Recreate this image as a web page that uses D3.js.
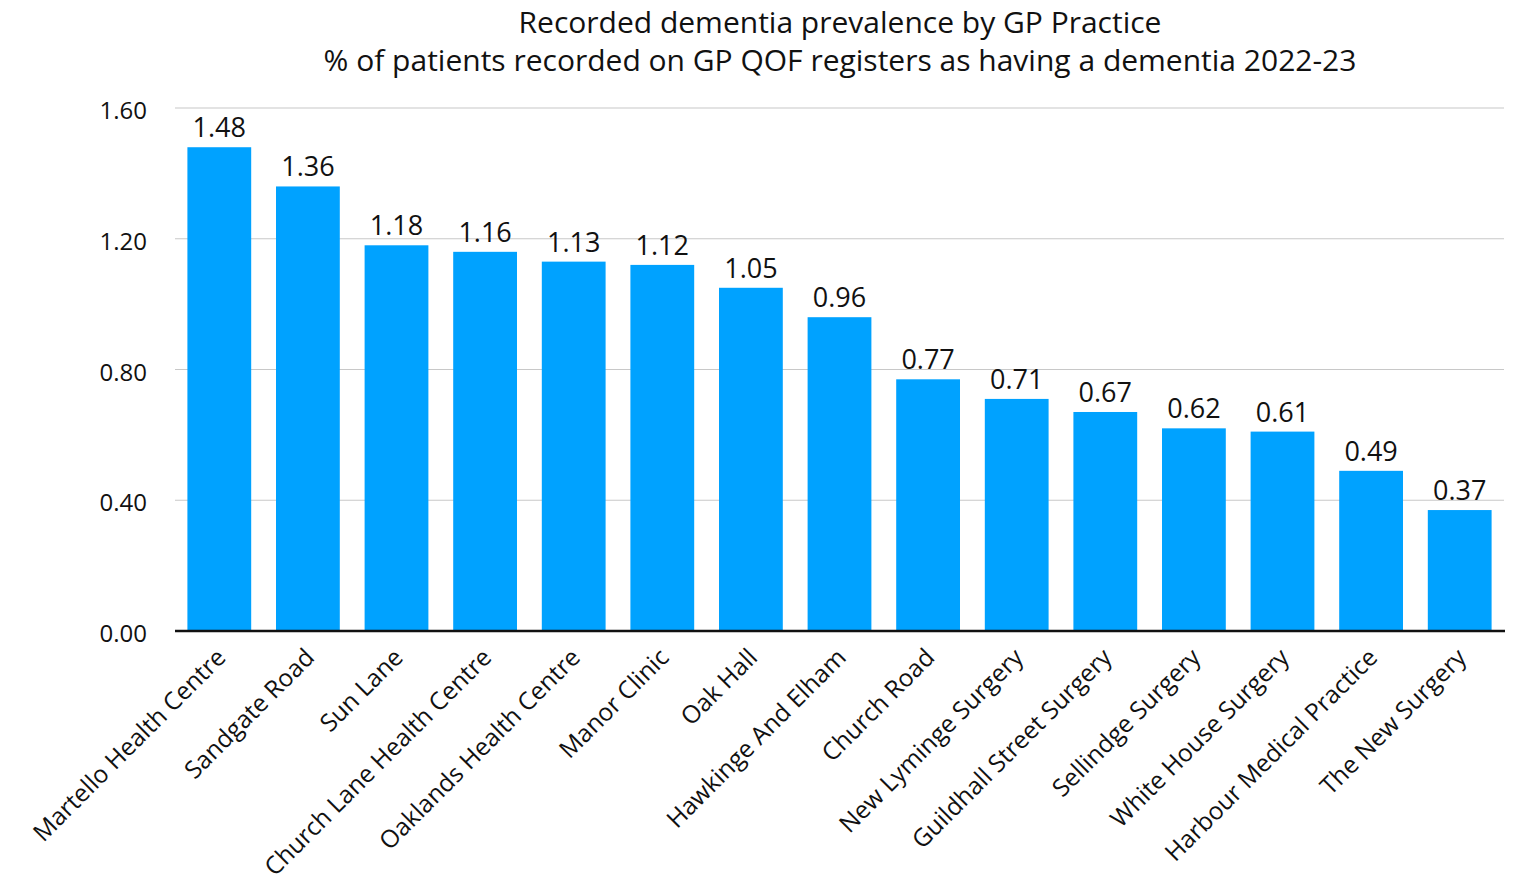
<!DOCTYPE html>
<html>
<head>
<meta charset="utf-8">
<script src="https://cdn.jsdelivr.net/npm/d3@7"></script>
<style>
  body { margin: 0; background: #fff; }
  text { font-family: "Open Sans", "Noto Sans", sans-serif; fill: #111; }
</style>
</head>
<body>
<svg id="chart" width="1516" height="881"></svg>
<script>
var practices = ["Martello Health Centre", "Sandgate Road", "Sun Lane", "Church Lane Health Centre",
  "Oaklands Health Centre", "Manor Clinic", "Oak Hall", "Hawkinge And Elham", "Church Road",
  "New Lyminge Surgery", "Guildhall Street Surgery", "Sellindge Surgery", "White House Surgery",
  "Harbour Medical Practice", "The New Surgery"];
var prevalence = [1.48, 1.36, 1.18, 1.16, 1.13, 1.12, 1.05, 0.96, 0.77, 0.71, 0.67, 0.62, 0.61, 0.49, 0.37];
var yTicks = [0, 0.4, 0.8, 1.2, 1.6];
var titleLines = ["Recorded dementia prevalence by GP Practice",
  "% of patients recorded on GP QOF registers as having a dementia 2022-23"];

var svg = d3.select("#chart");
var plotLeft = 175, plotRight = 1504, plotTop = 108, plotBottom = 631;

var x = d3.scaleBand().domain(practices).range([plotLeft, plotRight]).paddingInner(0.28).paddingOuter(0.14);
var y = d3.scaleLinear().domain([0, 1.6]).range([plotBottom, plotTop]);

// title
svg.selectAll(".title")
  .data(titleLines)
  .enter()
  .append("text")
  .attr("class", "title")
  .attr("x", 840)
  .attr("y", function(d, i) { return 33 + i * 38; })
  .attr("text-anchor", "middle")
  .style("font-size", "30px")
  .text(function(d) { return d; });

// gridlines
svg.append("g")
  .selectAll("line")
  .data(yTicks.slice(1))
  .enter()
  .append("line")
  .attr("x1", plotLeft)
  .attr("x2", plotRight)
  .attr("y1", function(d) { return y(d); })
  .attr("y2", function(d) { return y(d); })
  .attr("stroke", "#c8c8c8")
  .attr("stroke-width", 1.2);

// y axis labels
var yAxis = svg.append("g")
  .attr("transform", "translate(" + 147 + ",3)")
  .call(d3.axisLeft(y).tickValues(yTicks).tickFormat(d3.format(".2f")).tickSize(0).tickPadding(0));
yAxis.select(".domain").remove();
yAxis.selectAll("text")
  .style("font-size", "24px")
  .style("font-family", "'Open Sans', sans-serif")
  .attr("fill", "#111");

// bars
svg.append("g")
  .selectAll("rect")
  .data(prevalence)
  .enter()
  .append("rect")
  .attr("x", function(d, i) { return x(practices[i]); })
  .attr("y", function(d) { return y(d); })
  .attr("width", x.bandwidth())
  .attr("height", function(d) { return plotBottom - y(d); })
  .style("fill", "#00a2ff");

// value labels
svg.append("g")
  .selectAll("text")
  .data(prevalence)
  .enter()
  .append("text")
  .attr("x", function(d, i) { return x(practices[i]) + x.bandwidth() / 2; })
  .attr("y", function(d) { return y(d) - 10; })
  .attr("text-anchor", "middle")
  .style("font-size", "27px")
  .text(function(d) { return d.toFixed(2); });

// baseline
svg.append("line")
  .attr("x1", plotLeft)
  .attr("x2", plotRight + 1)
  .attr("y1", plotBottom)
  .attr("y2", plotBottom)
  .attr("stroke", "#111")
  .attr("stroke-width", 2.5);

// x labels
svg.append("g")
  .selectAll("text")
  .data(practices)
  .enter()
  .append("text")
  .attr("transform", function(d) {
    var cx = x(d) + x.bandwidth() / 2 + 8;
    return "translate(" + cx + "," + 659 + ") rotate(-45)";
  })
  .attr("text-anchor", "end")
  .style("font-size", "24.5px")
  .text(function(d) { return d; });
</script>
</body>
</html>
